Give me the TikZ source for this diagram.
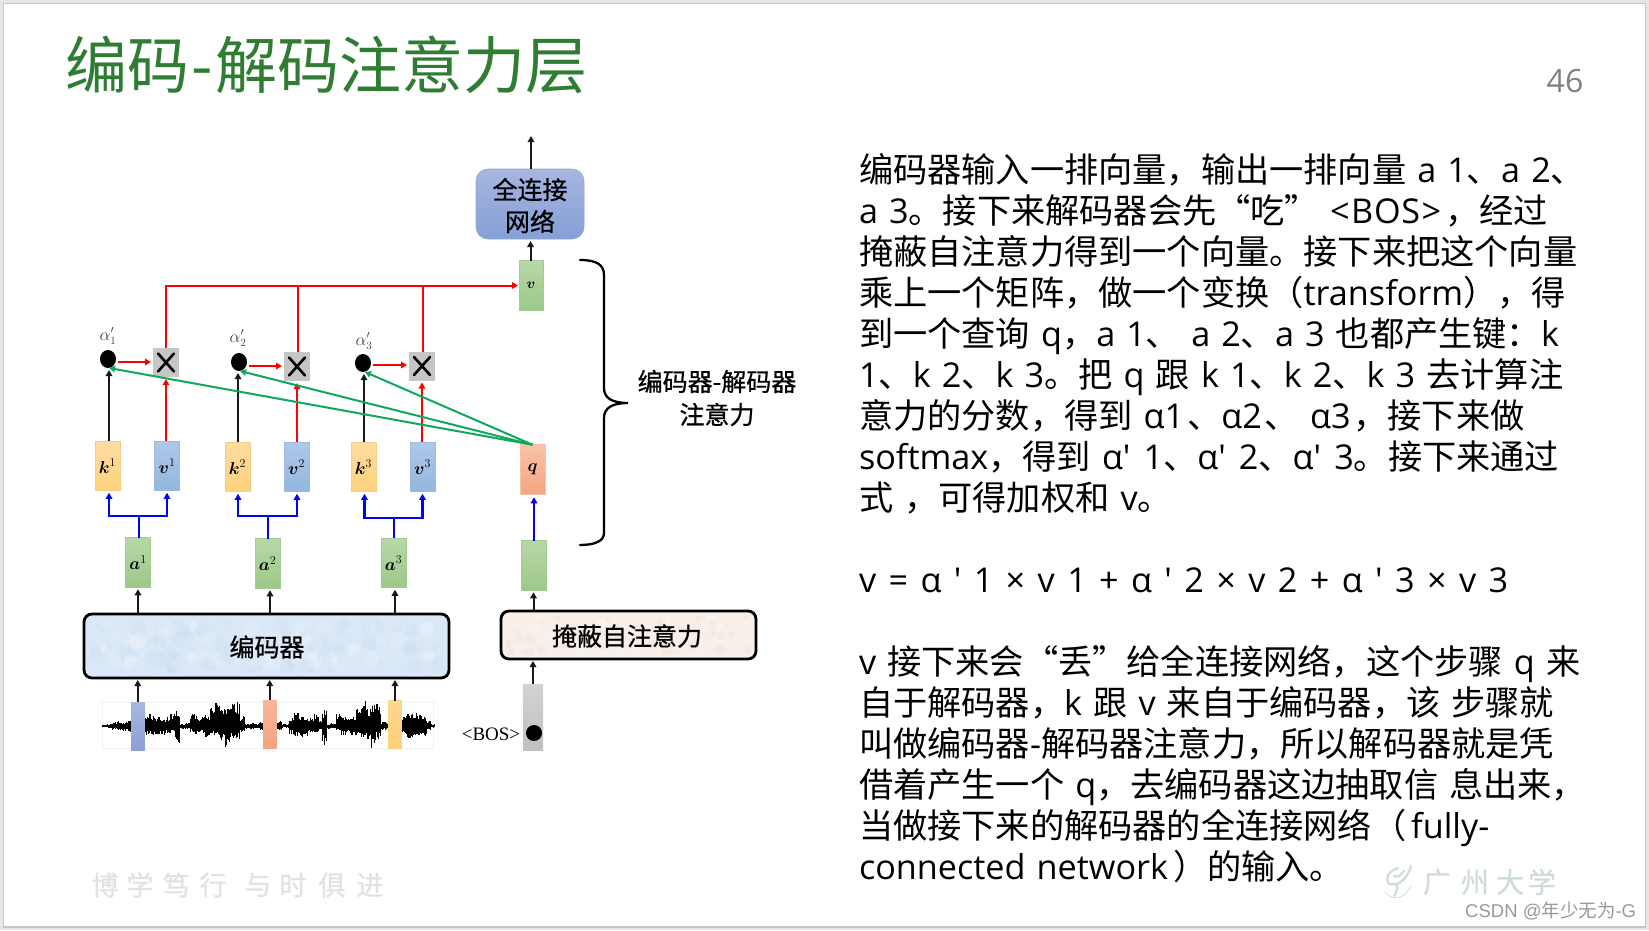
\documentclass[tikz,border=0pt]{standalone}
\usepackage{amsmath,amsbsy}
\usepackage{fontspec}
\usetikzlibrary{arrows.meta,shapes.geometric}
\setmainfont{Noto Sans CJK SC}
\newfontfamily\med[FakeBold=0.7]{Noto Sans CJK SC}
\newfontfamily\lat[WordSpace=1.25]{Open Sans}
\newfontfamily\tms{Liberation Serif}
\newfontfamily\ari{Liberation Sans}
\newcommand{\E}[1]{{\lat #1}}
\newcommand{\Sp}{\ \kern1.3pt}
\newcommand{\hx}[1]{\definecolor{#1}{HTML}{#1}}
\hx{FFDCA0}\hx{FDD27C}\hx{F3CE8A}\hx{AFC8E8}\hx{93B6DF}\hx{9DBBDD}\hx{B7D8A7}\hx{9DC88A}\hx{A3CB91}
\hx{F9C2A6}\hx{F5A582}\hx{F4C4AC}\hx{C6C6C6}\hx{E6E6E6}\hx{A9B7E0}\hx{8C9FD4}\hx{F8B69A}\hx{F5A27E}
\hx{FDD78F}\hx{FDCF78}\hx{D9E7F7}\hx{F8EFE8}\hx{A5B6E0}\hx{869FD6}\hx{8FA7D8}\hx{D2D2D2}\hx{C0C0C0}
\hx{C4D8F0}\hx{EFDFD3}
\definecolor{titlegreen}{HTML}{2E7D32}
\definecolor{wmgray}{HTML}{E2E2E2}
\definecolor{wmgreen}{HTML}{CFDDD2}
\definecolor{greenarrow}{HTML}{10A85C}
\tikzset{
  tok/.style={rectangle,inner sep=0pt,outer sep=0pt,minimum width=25pt,minimum height=49.5pt,font=\fontsize{17}{17}\selectfont},
  ktok/.style={tok,top color=FFDCA0,bottom color=FDD27C,draw=F3CE8A,line width=.6pt},
  vtok/.style={tok,top color=AFC8E8,bottom color=93B6DF,draw=9DBBDD,line width=.6pt},
  atok/.style={tok,top color=B7D8A7,bottom color=9DC88A,draw=A3CB91,line width=.6pt},
  qtok/.style={tok,top color=F9C2A6,bottom color=F5A582,draw=F4C4AC,line width=.6pt},
  mul/.style={rectangle,inner sep=0pt,outer sep=0pt,minimum width=26pt,minimum height=29pt,fill=C6C6C6},
  dotn/.style={ellipse,fill=black,inner sep=0pt,outer sep=0pt,minimum width=16pt,minimum height=18pt},
  alab/.style={inner sep=0pt,text=black!75,font=\fontsize{16}{16}\selectfont},
  blk/.style={line width=2pt,draw=black!90,-{Triangle[length=6pt,width=6.5pt]}},
  redl/.style={line width=2pt,draw=red},
  reda/.style={redl,-{Triangle[length=6pt,width=6.5pt]}},
  blul/.style={line width=2.3pt,draw=blue},
  blua/.style={blul,-{Triangle[length=6pt,width=6.5pt]}},
  grna/.style={line width=2pt,draw=greenarrow,-{Triangle[length=6pt,width=6.5pt]}},
  bigbox/.style={rectangle,rounded corners=8pt,draw=black,line width=2.8pt,inner sep=0pt,outer sep=0pt,font=\fontsize{25}{25}\selectfont\med},
  bar/.style={rectangle,inner sep=0pt,outer sep=0pt,minimum width=13.5pt,minimum height=48pt},
  bodyl/.style={anchor=base west,inner sep=0pt,outer sep=0pt,font=\fontsize{34.2}{41}\selectfont},
  wmc/.style={inner sep=0pt,text=wmgray,font=\fontsize{27}{27}\selectfont\med},
  wmu/.style={inner sep=0pt,text=wmgreen,font=\fontsize{28}{28}\selectfont\med},
  wav/.style={line width=.8pt,draw=black},
}
\begin{document}
\begin{tikzpicture}[x=1pt,y=-1pt]
\useasboundingbox (0,0) rectangle (1649,930);
\fill[E6E6E6] (0,0) rectangle (1649,930);
\fill[white,draw=C6C6C6,line width=1.5pt] (3.5,3.5) rectangle (1645.5,927);

% title and number
\node[anchor=base west,inner sep=0pt,text=titlegreen,font=\fontsize{62}{62}\selectfont] (title) at (65,88) {编码\kern2.5pt-\kern2.5pt解码注意力层};
\node[inner sep=0pt,text=black!50,font=\fontsize{32}{32}\selectfont\lat] (pageno) at (1565,81) {46};

% body text
\node[bodyl] (l1) at (859,182) {编码器输入一排向量，输出一排向量\E{ a 1}、\E{a 2}、};
\node[bodyl] (l2) at (859,223) {\E{a 3}。接下来解码器会先“吃”\E{ <\kern1.5pt B\kern.7pt O\kern.7pt S\kern1.5pt>}\kern4pt，经过};
\node[bodyl] (l3) at (859,264) {掩蔽自注意力得到一个向量。接下来把这个向量};
\node[bodyl] (l4) at (859,305) {乘上一个矩阵，做一个变换（\E{transform}），得};
\node[bodyl] (l5) at (859,346) {到一个查询\E{ q}，\E{a 1}、\E{ a 2}、\E{a 3 }也都产生键：\E{k}};
\node[bodyl] (l6) at (859,387) {\E{1}、\E{k 2}、\E{k 3}。把\E{ q }跟\E{ k 1}、\E{k 2}、\E{k 3 }去计算注};
\node[bodyl] (l7) at (859,428) {意力的分数，得到\E{ α1}\kern3pt、\E{α2}\kern3pt、\E{ α3}\kern3pt，接下来做};
\node[bodyl] (l8) at (859,469) {\E{softmax}，得到\E{ α′\kern2pt\ 1}、\E{α′\kern2pt\ 2}、\E{α′\kern2pt\ 3}。接下来通过};
\node[bodyl] (l9) at (859,510) {式\E{ }，可得加权和\E{ v}。};
\node[bodyl] (l10) at (859,592) {\E{v\Sp=\Sp α\Sp ′\Sp 1\Sp ×\Sp v\Sp 1\Sp +\Sp α\Sp ′\Sp 2\Sp ×\Sp v\Sp 2\Sp +\Sp α\Sp ′\Sp 3\Sp ×\Sp v\Sp 3}};
\node[bodyl] (l11) at (859,674) {\E{v }接下来会“丢”给全连接网络，这个步骤\E{ q }来};
\node[bodyl] (l12) at (859,715) {自于解码器，\E{k }跟\E{ v }来自于编码器，该\E{ }步骤就};
\node[bodyl] (l13) at (859,756) {叫做编码器\E{-}解码器注意力，所以解码器就是凭};
\node[bodyl] (l14) at (859,797) {借着产生一个\E{ q}，去编码器这边抽取信\E{ }息出来，};
\node[bodyl] (l15) at (859,838) {当做接下来的解码器的全连接网络（\kern5pt\E{fully-}};
\node[bodyl] (l16) at (859,879) {\E{connected network}\kern5pt）的输入。};

% watermarks
\foreach \c/\x [count=\i] in {博/105,学/140,笃/176,行/213,与/258,时/293,俱/332,进/370}
  \node[wmc] (wm\i) at (\x,885) {\c};
\foreach \c/\x [count=\i] in {广/1437,州/1475,大/1510,学/1542}
  \node[wmu] (wu\i) at (\x,882) {\c};
\begin{scope}[draw=wmgreen,line width=2.2pt,line cap=round]
  \draw (1389,884) .. controls (1384,876) and (1390,871) .. (1398,868);
  \draw (1389,884) .. controls (1398,886) and (1407,880) .. (1411,866);
  \draw (1394,876) .. controls (1398,878) and (1401,875) .. (1404,871);
  \draw (1397,884) .. controls (1398,889) and (1396,893) .. (1394,896);
  \draw[dash pattern=on 1pt off 1pt,line width=1pt] (1385,892) .. controls (1392,901) and (1404,900) .. (1411,886);
\end{scope}
\node[inner sep=0pt,anchor=west,text=black!40,font=\fontsize{18.5}{18.5}\selectfont] (csdn) at (1465,911) {{\ari CSDN @}年少无为{\ari -G}};

% waveform
\fill[white,draw=black!6,line width=.6pt] (102,702) rectangle (433,748);
\draw[wav] (102,726) -- (433,726);
\pgfmathsetseed{11}
\foreach \x/\u/\d in {102/1/1,107/2/2,112/4/4,117/5/5,122/4/6,127/6/6,132/8/7,137/9/8,
 145/13/9,150/12/10,155/9/12,160/7/10,165/9/7,170/12/7,175/16/18,180/2/3,185/3/3,190/13/6,195/10/9,200/9/7,205/11/11,
 210/17/9,215/25/12,220/19/14,225/24/22,230/22/12,235/24/14,240/10/6,245/2/3,250/3/3,255/3/3,260/6/5,265/16/5,270/12/6,
 277/5/4,281/2/2,285/2/2,289/9/8,294/13/10,299/9/12,304/7/10,309/9/7,314/12/7,319/5/5,322/16/18,326/2/3,331/3/3,336/13/6,341/10/9,346/9/7,351/11/11,
 356/17/9,361/25/12,366/19/14,371/24/22,376/22/12,381/4/4,386/3/3,
 402/12/10,407/13/12,412/13/12,417/11/11,422/10/10,426/5/5,430/2/2}{
  \foreach \k in {0,1,2,3,4}{
    \pgfmathsetmacro\px{\x+\k}
    \pgfmathsetmacro\pu{726-\u*(0.5+0.55*rnd)}
    \pgfmathsetmacro\pd{726+\d*(0.5+0.55*rnd)}
    \draw[wav] (\px,\pu) -- (\px,\pd);
  }
}
\node[bar,top color=A9B7E0,bottom color=8C9FD4] (b1) at (137.75,726) {};
\node[bar,top color=F8B69A,bottom color=F5A27E] (b2) at (269.75,724) {};
\node[bar,top color=FDD78F,bottom color=FDCF78] (b3) at (395,724.5) {};

% big boxes
\node[bigbox,fill=D9E7F7,minimum width=365pt,minimum height=64pt] (enc) at (266.5,646) {};
\node[bigbox,fill=F8EFE8,minimum width=255pt,minimum height=48pt] (mask) at (628.5,635) {};
\begin{scope}
  \clip (90,620) rectangle (443,672);
  \pgfmathsetseed{5}
  \foreach \i in {1,...,140}{
    \pgfmathsetmacro\cx{90+353*rnd}
    \pgfmathsetmacro\cy{620+52*rnd}
    \pgfmathsetmacro\cr{2+7*rnd}
    \pgfmathtruncatemacro\w{mod(\i,2)}
    \ifnum\w=0 \fill[white,opacity=.16] (\cx,\cy) circle[radius=\cr];
    \else \fill[C4D8F0,opacity=.2] (\cx,\cy) circle[radius=\cr]; \fi
  }
\end{scope}
\begin{scope}
  \clip (506,616) rectangle (751,654);
  \foreach \i in {1,...,120}{
    \pgfmathsetmacro\cx{506+245*rnd}
    \pgfmathsetmacro\cy{616+38*rnd}
    \pgfmathsetmacro\cr{1.5+4*rnd}
    \pgfmathtruncatemacro\w{mod(\i,2)}
    \ifnum\w=0 \fill[white,opacity=.2] (\cx,\cy) circle[radius=\cr];
    \else \fill[EFDFD3,opacity=.25] (\cx,\cy) circle[radius=\cr]; \fi
  }
\end{scope}
\node[inner sep=0pt,font=\fontsize{25}{25}\selectfont\med] (enclab) at (267,647) {编码器};
\node[inner sep=0pt,font=\fontsize{25}{25}\selectfont\med] (masklab) at (627,636) {掩蔽自注意力};
\node[rectangle,rounded corners=12pt,top color=A5B6E0,bottom color=869FD6,draw=8FA7D8,line width=.6pt,minimum width=108pt,minimum height=70pt,inner sep=0pt,outer sep=0pt] (fc) at (530,204) {};
\node[inner sep=0pt,align=center,font=\fontsize{25}{32}\selectfont\med] (fclab) at (530,205.5) {全连接\\网络};

% tokens
\node[atok] (a1) at (138,562.5) {$\boldsymbol{a}^{1}$};
\node[atok] (a2) at (267.5,563.5) {$\boldsymbol{a}^{2}$};
\node[atok] (a3) at (393.5,563) {$\boldsymbol{a}^{3}$};
\node[atok] (da) at (533.5,565.5) {};
\node[ktok] (k1) at (107.5,466) {$\boldsymbol{k}^{1}$};
\node[vtok] (v1) at (167,466) {$\boldsymbol{v}^{1}$};
\node[ktok] (k2) at (237.5,467) {$\boldsymbol{k}^{2}$};
\node[vtok] (v2) at (296.5,467) {$\boldsymbol{v}^{2}$};
\node[ktok] (k3) at (363.5,467) {$\boldsymbol{k}^{3}$};
\node[vtok] (v3) at (422.5,467) {$\boldsymbol{v}^{3}$};
\node[qtok] (q) at (532.5,469.5) {$\boldsymbol{q}$};
\node[atok,minimum width=24pt,font=\fontsize{14}{14}\selectfont] (v) at (531,285.5) {$\boldsymbol{v}$};
\node[rectangle,top color=D2D2D2,bottom color=C0C0C0,minimum width=20pt,minimum height=66pt,inner sep=0pt,outer sep=0pt] (bos) at (533,717) {};
\node[ellipse,fill=black,minimum width=16pt,minimum height=16pt,inner sep=0pt] (bd) at (534,733) {};
\node[inner sep=0pt,font=\fontsize{19}{19}\selectfont\tms] (boslab) at (491,734) {<BOS>};

% multipliers and dots
\node[mul] (x1) at (166,362.5) {};
\node[mul] (x2) at (297,366.5) {};
\node[mul] (x3) at (422,366) {};
\foreach \n in {x1,x2,x3}{
  \draw[line width=2.6pt,line cap=round] (\n.center) +(-8,-9) -- +(8,9);
  \draw[line width=2.6pt,line cap=round] (\n.center) +(-8,9) -- +(8,-9);
}
\node[dotn] (d1) at (108,359) {};
\node[dotn] (d2) at (239,362) {};
\node[dotn] (d3) at (363,363) {};
\node[alab] (al1) at (108,336) {$\alpha'_1$};
\node[alab] (al2) at (238,338) {$\alpha'_2$};
\node[alab] (al3) at (364,341) {$\alpha'_3$};

% black arrows
\coordinate (out) at (531,136);
\draw[blk] (out |- fc.north) -- (out);
\draw[blk,shorten >=2pt] ([xshift=-.5pt]v.north) -- ([xshift=-.5pt]v.north |- fc.south);
\draw[blk,shorten >=2pt] (a1.south |- enc.north) -- (a1.south);
\draw[blk,shorten >=2pt] ([xshift=2.5pt]a2.south |- enc.north) -- ([xshift=2.5pt]a2.south);
\draw[blk,shorten >=2pt] ([xshift=1.5pt]a3.south |- enc.north) -- ([xshift=1.5pt]a3.south);
\draw[blk,shorten >=2pt] (da.south |- mask.north) -- (da.south);
\draw[blk,shorten >=2pt] (b1.north) -- (b1.north |- enc.south);
\draw[blk,shorten >=2pt] (b2.north) -- (b2.north |- enc.south);
\draw[blk,shorten >=2pt] (b3.north) -- (b3.north |- enc.south);
\draw[blk,shorten >=2pt] (bos.north) -- (bos.north |- mask.south);
\draw[blk,shorten >=2pt] ([xshift=1.5pt]k1.north) -- ([xshift=1.5pt]k1.north |- d1.south);
\draw[blk,shorten >=2pt] ([xshift=.5pt]k2.north) -- ([xshift=.5pt]k2.north |- d2.south);
\draw[blk,shorten >=2pt] ([xshift=.5pt]k3.north) -- ([xshift=.5pt]k3.north |- d3.south);

% red
\draw[reda,shorten >=1pt] (x1.north) |- (v.west);
\draw[redl] ([xshift=1pt]x2.north) -- ([xshift=1pt]x2.north |- v.west);
\draw[redl] ([xshift=1pt]x3.north) -- ([xshift=1pt]x3.north |- v.west);
\draw[reda,shorten <=2pt,shorten >=2pt] ([yshift=-3pt]d1.east) -- ([yshift=-3pt]d1.east -| x1.west);
\draw[reda,shorten <=2pt,shorten >=2pt] ([yshift=-4pt]d2.east) -- ([yshift=-4pt]d2.east -| x2.west);
\draw[reda,shorten <=2pt,shorten >=2pt] ([yshift=-2pt]d3.east) -- ([yshift=-2pt]d3.east -| x3.west);
\draw[reda,shorten >=2pt] (v1.north -| x1.south) -- (x1.south);
\draw[reda,shorten >=2pt] (v2.north -| x2.south) -- (x2.south);
\draw[reda,shorten >=2pt] (v3.north -| x3.south) -- (x3.south);

% blue
\coordinate (j1) at (139,516);
\coordinate (j2) at (268,516);
\coordinate (j3) at (394,518);
\draw[blul] ([xshift=1pt]a1.north) -- (j1);
\draw[blul] ([xshift=.5pt]a2.north) -- (j2);
\draw[blul] ([xshift=.5pt]a3.north) -- (j3);
\draw[blua,shorten >=2pt] (j1) -| ([xshift=1.5pt]k1.south);
\draw[blua,shorten >=2pt] (j1) -| (v1.south);
\draw[blua,shorten >=2pt] (j2) -| ([xshift=.5pt]k2.south);
\draw[blua,shorten >=2pt] (j2) -| ([xshift=.5pt]v2.south);
\draw[blua,shorten >=2pt] (j3) -| ([xshift=1pt]k3.south);
\draw[blua,shorten >=2pt] (j3) -| (v3.south);
\draw[blua,shorten >=3pt] ([xshift=.5pt]da.north) -- ([xshift=.5pt]da.north |- q.south);

% green
\draw[grna] (q.north) -- ([xshift=1pt]d1.south);
\draw[grna] (q.north) -- ([xshift=1pt]d2.south);
\draw[grna] (q.north) -- ([xshift=2pt]d3.south);

% brace and label
\draw[line width=2.3pt,line cap=round] (580,260) .. controls (597,260) and (604,265) .. (604,275) -- (604,388) .. controls (604,398) and (612,403) .. (628,403) .. controls (612,403) and (604,408) .. (604,418) -- (604,533) .. controls (604,541) and (595,545) .. (580,545);
\node[inner sep=0pt,align=center,font=\fontsize{25}{33}\selectfont\med] (blab) at (717,398) {编码器-解码器\\注意力};
\end{tikzpicture}
\end{document}
